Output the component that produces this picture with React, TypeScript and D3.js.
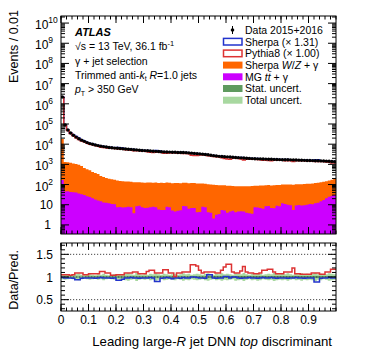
import React from 'react';
import * as d3 from 'd3';

// bin contents, 100 bins of width 0.01 in the DNN top discriminant
const dataCounts = [
  2.2e6, 8.9e4, 5.0e4, 3.55e4, 2.75e4, 2.24e4, 1.86e4, 1.58e4, 1.38e4, 1.2e4,
  1.07e4, 9.9e3, 9.1e3, 8.5e3, 8.0e3, 7.6e3, 7.2e3, 6.9e3, 6.6e3, 6.4e3,
  6.3e3, 6.1e3, 5.9e3, 5.8e3, 5.6e3, 5.5e3, 5.3e3, 5.2e3, 5.0e3, 4.9e3,
  4.8e3, 4.7e3, 4.6e3, 4.5e3, 4.4e3, 4.3e3, 4.2e3, 4.15e3, 4.1e3, 4.05e3,
  4.0e3, 3.95e3, 3.9e3, 3.9e3, 3.85e3, 3.8e3, 3.7e3, 3.6e3, 3.5e3, 3.4e3,
  3.3e3, 3.2e3, 3.1e3, 3.0e3, 2.85e3, 2.7e3, 2.6e3, 2.5e3, 2.45e3, 2.4e3,
  2.35e3, 2.3e3, 2.25e3, 2.2e3, 2.15e3, 2.1e3, 2.05e3, 2.0e3, 1.97e3, 1.93e3,
  1.9e3, 1.88e3, 1.86e3, 1.84e3, 1.82e3, 1.8e3, 1.78e3, 1.76e3, 1.74e3, 1.72e3,
  1.7e3, 1.69e3, 1.68e3, 1.67e3, 1.66e3, 1.64e3, 1.62e3, 1.6e3, 1.58e3, 1.56e3,
  1.55e3, 1.54e3, 1.52e3, 1.5e3, 1.48e3, 1.46e3, 1.44e3, 1.42e3, 1.38e3, 1.35e3,
];

const wzGamma = [
  1.8e4, 1260, 1230, 1150, 1070, 1000, 910, 790, 630, 540,
  480, 400, 355, 315, 250, 225, 200, 180, 170, 160,
  150, 140, 138, 135, 132, 129, 126, 123, 120, 118,
  116, 119, 117, 115, 118, 114, 116, 113, 117, 115,
  112, 116, 114, 111, 115, 113, 110, 114, 112, 109,
  107, 105, 102, 100, 97, 95, 92, 90, 88, 86,
  84, 82, 80, 79, 78, 77, 77, 78, 79, 80,
  80, 81, 82, 83, 84, 85, 84, 86, 87, 88,
  88, 89, 90, 91, 92, 93, 94, 95, 96, 98,
  100, 103, 106, 110, 115, 120, 126, 132, 145, 170,
];

const ttGamma = [
  170, 45, 46, 43, 42, 40, 36, 33, 30, 26,
  24, 21, 18, 16, 15, 13, 12.6, 12, 11, 10.5,
  7.6, 7.8, 7.2, 7.4, 7.9, 7.6, 3.8, 8.3, 8.9, 7.6,
  6.8, 7.1, 7.6, 7.9, 7.6, 5.8, 5.5, 5.5, 7.9, 7.6,
  5.2, 4.6, 5.0, 5.4, 8.7, 8.3, 6.3, 6.8, 6.9, 4.2,
  4.4, 7.9, 7.6, 4.2, 4.0, 2.1, 3.2, 3.5, 5.5, 5.2,
  4.0, 4.6, 5.0, 4.2, 4.6, 4.8, 4.6, 4.0, 3.8, 3.6,
  7.6, 7.2, 6.9, 6.3, 8.3, 8.7, 6.9, 6.6, 8.9, 8.3,
  11.7, 11, 10, 9.5, 5.5, 9.1, 9.8, 9.1, 9.5, 10,
  11, 10.5, 11.7, 12.6, 15, 17.4, 21, 25, 27.5, 30,
];

// Data / prediction
const ratioPythia = [
  1.05, 1.05, 1.05, 1.04, 1.05, 1.09, 1.09, 1.09, 1.05, 1.05,
  1.07, 1.07, 1.07, 1.07, 1.12, 1.12, 1.09, 1.09, 1.04, 1.04,
  1.05, 1.05, 1.05, 1.09, 1.09, 1.09, 1.11, 1.11, 1.07, 1.07,
  1.07, 1.12, 1.15, 1.15, 1.09, 1.09, 1.09, 1.16, 1.16, 1.09,
  1.09, 1.01, 1.09, 1.09, 1.11, 1.11, 1.11, 1.27, 1.27, 1.24,
  1.15, 1.09, 1.11, 1.11, 1.11, 1.11, 1.09, 1.09, 1.15, 1.22,
  1.28, 1.28, 1.11, 1.09, 1.09, 1.13, 1.23, 1.11, 1.09, 1.09,
  1.07, 1.07, 1.09, 1.15, 1.15, 1.17, 1.17, 1.11, 1.07, 1.07,
  1.07, 1.11, 1.11, 1.11, 1.2, 1.07, 1.07, 1.06, 1.06, 1.06,
  1.06, 1.09, 1.09, 1.09, 1.06, 1.06, 1.11, 1.11, 1.17, 1.17,
];

const ratioSherpa = [
  0.99, 0.98, 0.98, 0.98, 0.97, 0.94, 0.94, 0.97, 0.98, 0.98,
  0.98, 0.98, 0.97, 0.98, 0.99, 0.98, 0.98, 0.98, 0.97, 0.98,
  0.93, 0.93, 0.95, 0.98, 0.98, 0.99, 0.98, 0.98, 0.97, 0.98,
  0.98, 0.98, 0.99, 0.98, 0.9, 0.9, 0.97, 0.98, 0.99, 0.98,
  0.96, 0.98, 0.98, 0.97, 0.99, 0.98, 0.98, 1.0, 1.0, 0.99,
  0.98, 0.98, 0.97, 1.05, 1.05, 0.98, 0.97, 0.98, 0.98, 1.01,
  1.01, 0.98, 1.0, 1.0, 0.98, 0.97, 0.98, 0.98, 0.99, 0.98,
  0.98, 0.97, 0.98, 0.99, 0.98, 0.98, 0.99, 0.98, 0.97, 0.98,
  0.98, 0.98, 0.97, 0.98, 0.98, 0.99, 0.98, 0.98, 0.97, 0.98,
  0.98, 0.98, 0.89, 0.89, 0.97, 0.98, 0.98, 0.99, 0.98, 0.98,
];

const totalUnc = [
  0.05, 0.06, 0.05, 0.04, 0.05, 0.06, 0.07, 0.05, 0.04, 0.05,
  0.06, 0.05, 0.04, 0.06, 0.05, 0.07, 0.05, 0.04, 0.05, 0.06,
  0.05, 0.06, 0.05, 0.07, 0.08, 0.06, 0.05, 0.09, 0.06, 0.05,
  0.06, 0.05, 0.07, 0.06, 0.08, 0.06, 0.05, 0.07, 0.06, 0.05,
  0.06, 0.07, 0.05, 0.06, 0.08, 0.06, 0.07, 0.05, 0.06, 0.07,
  0.06, 0.05, 0.07, 0.08, 0.06, 0.05, 0.07, 0.06, 0.08, 0.06,
  0.07, 0.06, 0.05, 0.08, 0.07, 0.06, 0.09, 0.06, 0.05, 0.07,
  0.06, 0.08, 0.07, 0.05, 0.06, 0.07, 0.06, 0.09, 0.07, 0.06,
  0.07, 0.06, 0.08, 0.06, 0.05, 0.07, 0.06, 0.08, 0.06, 0.07,
  0.06, 0.07, 0.09, 0.06, 0.07, 0.05, 0.06, 0.08, 0.07, 0.06,
];

const statUnc = [
  0.004, 0.01, 0.012, 0.012, 0.012, 0.013, 0.013, 0.013, 0.013, 0.014,
  0.014, 0.014, 0.014, 0.015, 0.015, 0.015, 0.015, 0.015, 0.015, 0.016,
  0.016, 0.016, 0.016, 0.016, 0.016, 0.016, 0.017, 0.017, 0.017, 0.017,
  0.017, 0.017, 0.017, 0.017, 0.017, 0.018, 0.018, 0.018, 0.018, 0.018,
  0.018, 0.018, 0.018, 0.018, 0.018, 0.018, 0.018, 0.019, 0.019, 0.019,
  0.019, 0.019, 0.019, 0.019, 0.02, 0.02, 0.02, 0.02, 0.02, 0.02,
  0.02, 0.02, 0.02, 0.021, 0.021, 0.021, 0.021, 0.021, 0.021, 0.021,
  0.021, 0.021, 0.021, 0.021, 0.021, 0.022, 0.022, 0.022, 0.022, 0.022,
  0.022, 0.022, 0.022, 0.022, 0.022, 0.022, 0.022, 0.022, 0.022, 0.022,
  0.022, 0.022, 0.022, 0.022, 0.022, 0.022, 0.022, 0.022, 0.022, 0.022,
];

const xTickLabels = ['0', '0.1', '0.2', '0.3', '0.4', '0.5', '0.6', '0.7', '0.8', '0.9'];
const yDecades = [0, 1, 2, 3, 4, 5, 6, 7, 8, 9, 10];
const ratioTicks = [0.5, 1, 1.5];

const FONT = "'Liberation Sans', Arial, Helvetica, sans-serif";
const ORANGE = '#ff6600';
const PURPLE = '#cc00ff';
const BLUE = '#2233cc';
const RED = '#dd3333';
const STAT = '#5f9a5f';
const TOTAL = '#a8d8a0';

const W = 374, H = 359;
const L = 61, R = 336;
const MT = 16, MB = 234;
const RT = 243, RB = 311;

const x = d3.scaleLinear().domain([0, 1]).range([L, R]);
const y = d3.scaleLog().domain([Math.pow(10, -0.45), Math.pow(10, 10.35)]).range([MB, MT]);
const yr = d3.scaleLinear().domain([0.25, 1.75]).range([RB, RT]);

const nBins = dataCounts.length;
const edges = d3.range(nBins + 1).map(i => i / nBins);

// step histograms: repeat the last value at the upper edge
const withEdges = (vals: number[]) => edges.map((e, i) => [e, vals[Math.min(i, vals.length - 1)]] as [number, number]);

const stepLine = (ys: (v: number) => number) =>
  d3.line<[number, number]>().curve(d3.curveStepAfter).x(d => x(d[0])).y(d => ys(d[1]));

const sherpaPred = dataCounts.map((d, i) => d / ratioSherpa[i]);
const pythiaPred = dataCounts.map((d, i) => d / ratioPythia[i]);
const stackWZ = wzGamma.map((v, i) => v + ttGamma[i]);

const fillArea = (vals: number[]) =>
  d3.area<[number, number]>().curve(d3.curveStepAfter)
    .x(d => x(d[0])).y0(MB).y1(d => y(d[1]))(withEdges(vals)) || '';

const band = (half: number[]) =>
  d3.area<[number, number]>().curve(d3.curveStepAfter)
    .x(d => x(d[0])).y0(d => yr(1 - d[1])).y1(d => yr(1 + d[1]))(withEdges(half)) || '';

function Ticks({ top, bottom, yMajor, yMinor, ys }: any) {
  const xMajor = d3.range(0, 10).map(i => i / 10);
  const xMinor = d3.range(0, 51).map(i => i / 50);
  return (
    <g stroke="#000" strokeWidth={1}>
      {xMinor.map((t, i) => (
        <g key={'xm' + i}>
          <line x1={x(t)} x2={x(t)} y1={bottom} y2={bottom - 3.5} />
          <line x1={x(t)} x2={x(t)} y1={top} y2={top + 3.5} />
        </g>
      ))}
      {xMajor.map((t, i) => (
        <g key={'xM' + i}>
          <line x1={x(t)} x2={x(t)} y1={bottom} y2={bottom - 7} />
          <line x1={x(t)} x2={x(t)} y1={top} y2={top + 7} />
        </g>
      ))}
      {yMinor.map((t: number, i: number) => (
        <g key={'ym' + i}>
          <line x1={L} x2={L + 4} y1={ys(t)} y2={ys(t)} />
          <line x1={R} x2={R - 4} y1={ys(t)} y2={ys(t)} />
        </g>
      ))}
      {yMajor.map((t: number, i: number) => (
        <g key={'yM' + i}>
          <line x1={L} x2={L + 8} y1={ys(t)} y2={ys(t)} />
          <line x1={R} x2={R - 8} y1={ys(t)} y2={ys(t)} />
        </g>
      ))}
    </g>
  );
}

export default function App() {
  const yMajor = yDecades.map(k => Math.pow(10, k));
  const yMinor: number[] = [];
  for (let k = -1; k <= 10; k++) {
    for (let m = 2; m <= 9; m++) {
      const v = m * Math.pow(10, k);
      if (v > y.domain()[0] && v < y.domain()[1]) yMinor.push(v);
    }
  }
  const rMinor = d3.range(3, 18).map(i => i / 10).filter(v => !ratioTicks.includes(v));

  const legendRows = [
    { label: 'Data 2015+2016', kind: 'data' },
    { label: 'Sherpa (\u00d7 1.31)', kind: 'line', color: BLUE },
    { label: 'Pythia8 (\u00d7 1.00)', kind: 'line', color: RED },
    { label: 'wz', kind: 'fill', color: ORANGE },
    { label: 'tt', kind: 'fill', color: PURPLE },
    { label: 'Stat. uncert.', kind: 'fill', color: STAT },
    { label: 'Total uncert.', kind: 'fill', color: TOTAL },
  ];

  return (
    <svg width={W} height={H} style={{ position: 'absolute', left: 0, top: 0, background: '#fff' }}
      fontFamily={FONT}>
      <defs>
        <clipPath id="mainClip"><rect x={L} y={MT} width={R - L} height={MB - MT} /></clipPath>
        <clipPath id="ratioClip"><rect x={L} y={RT} width={R - L} height={RB - RT} /></clipPath>
      </defs>

      {/* main panel */}
      <g clipPath="url(#mainClip)">
        <path d={fillArea(stackWZ)} fill={ORANGE} />
        <path d={fillArea(ttGamma)} fill={PURPLE} />
        <path d={stepLine(y)(withEdges(sherpaPred)) || ''} fill="none" stroke={BLUE} strokeWidth={1.5} />
        <path d={stepLine(y)(withEdges(pythiaPred)) || ''} fill="none" stroke={RED} strokeWidth={1.5} />
        {dataCounts.map((d, i) => (
          <circle key={i} cx={x((edges[i] + edges[i + 1]) / 2)} cy={y(d)} r={1.7} fill="#000" />
        ))}
      </g>
      <rect x={L} y={MT} width={R - L} height={MB - MT} fill="none" stroke="#000" strokeWidth={1} />
      <Ticks top={MT} bottom={MB} yMajor={yMajor} yMinor={yMinor} ys={y} />

      {yDecades.map(k => (
        k < 2 ? (
          <text key={k} x={k === 0 ? 51 : 53} y={y(Math.pow(10, k)) + 4.5} textAnchor="end" fontSize={12}>
            {k === 0 ? '1' : '10'}
          </text>
        ) : (
          <text key={k} x={35} y={y(Math.pow(10, k)) + 6} fontSize={12}>
            10<tspan dy={-6} fontSize={8.5}>{k}</tspan>
          </text>
        )
      ))}

      {/* labels */}
      <text x={75} y={36} fontSize={11} fontWeight="bold" fontStyle="italic">ATLAS</text>
      <text x={75} y={50} fontSize={10.5}>
        {'\u221as = 13 TeV, 36.1 fb'}<tspan dy={-4} fontSize={7.5}>-1</tspan>
      </text>
      <text x={75} y={64.5} fontSize={10.5}>{'\u03b3 + jet selection'}</text>
      <text x={75} y={79} fontSize={10.5}>
        Trimmed anti-<tspan fontStyle="italic">k</tspan><tspan dy={2} fontSize={7}>t</tspan>
        <tspan dy={-2}> </tspan><tspan fontStyle="italic">R</tspan>=1.0 jets
      </text>
      <text x={75} y={93} fontSize={10.5}>
        <tspan fontStyle="italic">p</tspan><tspan dy={2.5} fontSize={7}>T</tspan>
        <tspan dy={-2.5}>{' > 350 GeV'}</tspan>
      </text>

      {/* legend */}
      {legendRows.map((row, i) => {
        const cy = 30 + i * 11.7;
        return (
          <g key={i}>
            {row.kind === 'data' && (
              <g>
                <line x1={232.5} x2={232.5} y1={cy - 4} y2={cy + 4} stroke="#000" strokeWidth={1} />
                <circle cx={232.5} cy={cy} r={1.8} fill="#000" />
              </g>
            )}
            {row.kind === 'line' && (
              <rect x={223.5} y={cy - 3.3} width={18.5} height={6.6} fill="#fff" stroke={row.color} strokeWidth={1.5} />
            )}
            {row.kind === 'fill' && (
              <rect x={223} y={cy - 3.5} width={19.5} height={7} fill={row.color} />
            )}
            <text x={245} y={cy + 3.8} fontSize={10.5}>
              {row.label === 'wz' ? (
                <>Sherpa <tspan fontStyle="italic">W</tspan>/<tspan fontStyle="italic">Z</tspan>{' + \u03b3'}</>
              ) : row.label === 'tt' ? (
                <>MG <tspan fontStyle="italic">{'tt\u0304'}</tspan>{' + \u03b3'}</>
              ) : row.label}
            </text>
          </g>
        );
      })}

      <text transform="translate(17.5,10) rotate(-90)" textAnchor="end" fontSize={12.5}>Events / 0.01</text>

      {/* ratio panel */}
      <g clipPath="url(#ratioClip)">
        <path d={band(totalUnc)} fill={TOTAL} />
        <path d={band(statUnc)} fill={STAT} />
        {ratioTicks.map(t => (
          <line key={t} x1={L} x2={R} y1={yr(t)} y2={yr(t)} stroke="#333" strokeWidth={0.9} strokeDasharray="1.2,1.8" />
        ))}
        <path d={stepLine(yr)(withEdges(ratioSherpa)) || ''} fill="none" stroke={BLUE} strokeWidth={1.5} />
        <path d={stepLine(yr)(withEdges(ratioPythia)) || ''} fill="none" stroke={RED} strokeWidth={1.5} />
      </g>
      <rect x={L} y={RT} width={R - L} height={RB - RT} fill="none" stroke="#000" strokeWidth={1} />
      <Ticks top={RT} bottom={RB} yMajor={ratioTicks} yMinor={rMinor} ys={yr} />

      {ratioTicks.map(t => (
        <text key={t} x={53} y={yr(t) + 4.5} textAnchor="end" fontSize={12}>{t === 1 ? '1' : String(t)}</text>
      ))}
      {xTickLabels.map((lab, i) => (
        <text key={lab} x={x(i / 10)} y={323.5} textAnchor="middle" fontSize={12}>{lab}</text>
      ))}

      <text transform="translate(17.5,250) rotate(-90)" textAnchor="end" fontSize={12.5}>Data/Pred.</text>
      <text x={332} y={345.5} textAnchor="end" fontSize={13.2}>
        Leading large-<tspan fontStyle="italic">R</tspan> jet DNN <tspan fontStyle="italic">top</tspan> discriminant
      </text>
    </svg>
  );
}
